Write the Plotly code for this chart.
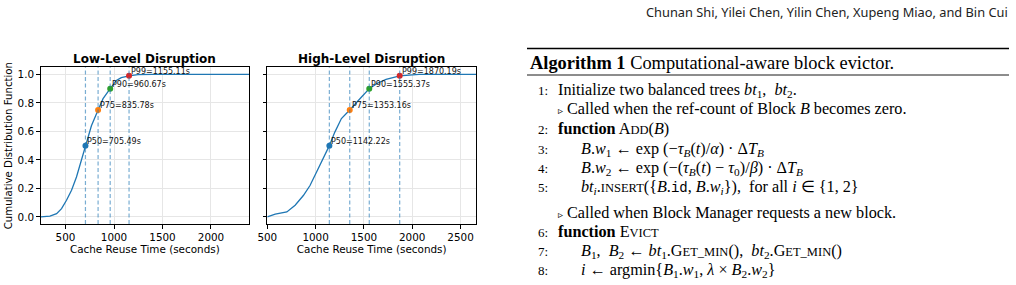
import plotly.graph_objects as go

# ---------------- data ----------------
low_x = [244, 339, 408, 459, 510, 562, 613, 664, 705.49, 733, 767, 835.78, 887, 960.67,
         1024, 1075, 1155.11, 1247, 1400, 2392]
low_y = [0.0, 0.005, 0.023, 0.058, 0.117, 0.187, 0.28, 0.40, 0.5, 0.57, 0.64, 0.75, 0.83, 0.9,
         0.958, 0.977, 0.99, 0.998, 1.0, 1.0]
high_x = [500, 582, 702, 788, 873, 942, 1010, 1079, 1142.22, 1199, 1267, 1353.16, 1404, 1473,
          1555.37, 1644, 1729, 1870.19, 2070, 2660]
high_y = [0.0, 0.019, 0.035, 0.082, 0.15, 0.22, 0.315, 0.41, 0.5, 0.595, 0.69, 0.75, 0.79, 0.84,
          0.9, 0.94, 0.965, 0.99, 1.0, 1.0]

pct_names = ["P50", "P75", "P90", "P99"]
pct_levels = [0.5, 0.75, 0.9, 0.99]
low_pct = [705.49, 835.78, 960.67, 1155.11]
high_pct = [1142.22, 1353.16, 1555.37, 1870.19]
pct_colors = ["#1f77b4", "#ff7f0e", "#2ca02c", "#d62728"]

titles = ["Low-Level Disruption", "High-Level Disruption"]
x_title = "Cache Reuse Time (seconds)"
y_title = "Cumulative Distribution Function"

header = "Chunan Shi, Yilei Chen, Yilin Chen, Xupeng Miao, and Bin Cui"
algo_title = "<b>Algorithm 1</b> Computational-aware block evictor."
SC = "<span style='font-size:12.5px'>"
algo_nums = ["1:", "", "2:", "3:", "4:", "5:", "", "6:", "7:", "8:"]
algo_indent = [0, 0, 0, 1, 1, 1, 0, 0, 1, 1]
algo_lines = [
    "Initialize two balanced trees <i>bt</i><sub>1</sub>,  <i>bt</i><sub>2</sub>.",
    "<span style='font-size:10px'>▹</span> Called when the ref-count of Block <i>B</i> becomes zero.",
    "<b>function</b> A" + SC + "DD</span>(<i>B</i>)",
    "<i>B</i>.<i>w</i><sub>1</sub> ← exp (−<i>τ</i><sub><i>B</i></sub>(<i>t</i>)/<i>α</i>) · Δ<i>T</i><sub><i>B</i></sub>",
    "<i>B</i>.<i>w</i><sub>2</sub> ← exp (−(<i>τ</i><sub><i>B</i></sub>(<i>t</i>) − <i>τ</i><sub>0</sub>)/<i>β</i>) · Δ<i>T</i><sub><i>B</i></sub>",
    "<i>bt<sub>i</sub></i>." + SC + "INSERT</span>({<i>B</i>.<span style='font-family:Liberation Mono;font-size:14px'>id</span>, <i>B</i>.<i>w<sub>i</sub></i>}),  for all <i>i</i> ∈ {1, 2}",
    "<span style='font-size:10px'>▹</span> Called when Block Manager requests a new block.",
    "<b>function</b> E" + SC + "VICT</span>",
    "<i>B</i><sub>1</sub>,  <i>B</i><sub>2</sub> ← <i>bt</i><sub>1</sub>.G" + SC + "ET_MIN</span>(),  <i>bt</i><sub>2</sub>.G" + SC + "ET_MIN</span>()",
    "<i>i</i> ← argmin{<i>B</i><sub>1</sub>.<i>w</i><sub>1</sub>, <i>λ</i> × <i>B</i><sub>2</sub>.<i>w</i><sub>2</sub>}",
]
algo_row_y = [90, 109, 129.3, 149, 168.3, 187, 212.5, 232, 251.5, 270]

# ---------------- layout geometry ----------------
W, H = 1016, 285
def px(x):
    return x / W
def py(y):
    return 1 - y / H

fig = go.Figure()

panels = [(low_x, low_y, low_pct, "x", "y"), (high_x, high_y, high_pct, "x2", "y2")]
shapes = []
annotations = []
for (cx, cy, pv, xa, ya) in panels:
    fig.add_trace(go.Scatter(x=cx, y=cy, mode="lines", xaxis=xa, yaxis=ya,
                             line=dict(color="#1f77b4", width=1.3), showlegend=False,
                             hoverinfo="skip"))
    for name, lvl, v, col in zip(pct_names, pct_levels, pv, pct_colors):
        shapes.append(dict(type="line", xref=xa, yref=ya + " domain", x0=v, x1=v, y0=0, y1=1,
                           line=dict(color="rgba(31,119,180,0.6)", width=1.2, dash="4px,2.5px"),
                           layer="above"))
        fig.add_trace(go.Scatter(x=[v], y=[lvl], mode="markers", xaxis=xa, yaxis=ya,
                                 marker=dict(color=col, size=6), showlegend=False,
                                 hoverinfo="skip"))
        annotations.append(dict(x=v, y=lvl, xref=xa, yref=ya, text=f"{name}={v:.2f}s",
                                showarrow=False, xanchor="left", yanchor="bottom",
                                xshift=0, yshift=-2,
                                font=dict(family="DejaVu Sans", size=8, color="#111")))

axis_common = dict(showline=True, mirror=True, linecolor="black", linewidth=1,
                   ticks="outside", ticklen=3.5, tickwidth=1, tickcolor="black",
                   showgrid=True, gridcolor="#e6e6e6", gridwidth=1, zeroline=False,
                   automargin=False,
                   tickfont=dict(family="DejaVu Sans", size=10.4, color="black"))
ydom = [py(224), py(67.3)]
fig.update_layout(
    xaxis=dict(domain=[px(40.7), px(249)], range=[244, 2392], dtick=500, tick0=0, anchor="y",
               title=dict(text=x_title, standoff=2,
                          font=dict(family="DejaVu Sans", size=10.4, color="black")),
               **axis_common),
    yaxis=dict(domain=ydom, range=[-0.05, 1.05], dtick=0.2, tick0=0, tickformat=".1f",
               anchor="x",
               title=dict(text=y_title, standoff=3,
                          font=dict(family="DejaVu Sans", size=10.2, color="black")),
               **axis_common),
    xaxis2=dict(domain=[px(267.3), px(476)], range=[500, 2660], dtick=500, tick0=0, anchor="y2",
                title=dict(text=x_title, standoff=2,
                           font=dict(family="DejaVu Sans", size=10.4, color="black")),
                **axis_common),
    yaxis2=dict(domain=ydom, range=[-0.05, 1.05], dtick=0.2, tick0=0, showticklabels=False,
                anchor="x2", **axis_common),
)

# subplot titles
for t, (a, b) in zip(titles, [(40.7, 249), (267.3, 476)]):
    annotations.append(dict(x=px((a + b) / 2), y=py(59), xref="paper", yref="paper", text=f"<b>{t}</b>",
                            showarrow=False, xanchor="center", yanchor="middle",
                            font=dict(family="DejaVu Sans", size=12, color="black")))

# header
annotations.append(dict(x=px(1010), y=py(11.7), xref="paper", yref="paper", text=header,
                        showarrow=False, xanchor="right", yanchor="middle",
                        font=dict(family="Noto Sans", size=12.8, color="#222")))

# algorithm block
annotations.append(dict(x=px(528), y=py(62.5), xref="paper", yref="paper", text=algo_title,
                        showarrow=False, xanchor="left", yanchor="middle",
                        font=dict(family="Liberation Serif", size=18.4, color="black")))
for num, ind, line, yy in zip(algo_nums, algo_indent, algo_lines, algo_row_y):
    if num:
        annotations.append(dict(x=px(550), y=py(yy), xref="paper", yref="paper", text=num,
                                showarrow=False, xanchor="right", yanchor="middle",
                                font=dict(family="Liberation Serif", size=13, color="black")))
    annotations.append(dict(x=px(579 if ind else 556), y=py(yy), xref="paper", yref="paper",
                            text=line, showarrow=False, xanchor="left", yanchor="middle",
                            font=dict(family="Liberation Serif", size=16.2, color="black")))

shapes.append(dict(type="line", xref="paper", yref="paper", x0=px(527), x1=px(1009),
                   y0=py(48.5), y1=py(48.5), line=dict(color="black", width=1.5)))
shapes.append(dict(type="line", xref="paper", yref="paper", x0=px(527), x1=px(1009),
                   y0=py(75), y1=py(75), line=dict(color="black", width=0.9)))

fig.update_layout(width=W, height=H, margin=dict(l=0, r=0, t=0, b=0, pad=0, autoexpand=False),
                  paper_bgcolor="white", plot_bgcolor="white",
                  shapes=shapes, annotations=annotations)

fig.write_html("out.html")
